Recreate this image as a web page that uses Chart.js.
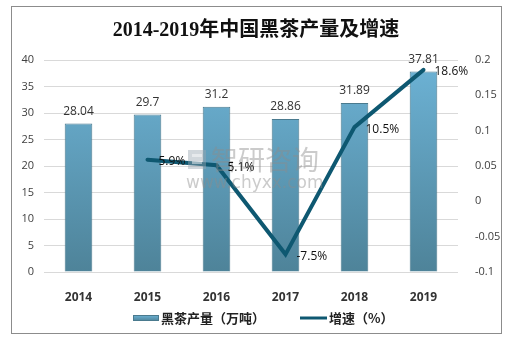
<!DOCTYPE html>
<html>
<head>
<meta charset="utf-8">
<script src="https://cdn.jsdelivr.net/npm/chart.js@4/dist/chart.umd.min.js"></script>
<style>
  html, body { margin: 0; padding: 0; background: #fff; }
  #wrap { width: 510px; height: 343px; position: relative; }
</style>
</head>
<body>
<div id="wrap"><canvas id="myChart" width="510" height="343"></canvas></div>
<script>
// data
const years = ['2014', '2015', '2016', '2017', '2018', '2019'];
const output = [28.04, 29.7, 31.2, 28.86, 31.89, 37.81];   // 万吨
const growth = [null, 0.059, 0.051, -0.075, 0.105, 0.186];
const growthLabels = ['', '5.9%', '5.1%', '-7.5%', '10.5%', '18.6%'];
const leftTicks = [0, 5, 10, 15, 20, 25, 30, 35, 40];
const rightTicks = ['0.2', '0.15', '0.1', '0.05', '0', '-0.05', '-0.1'];

const titleText = '2014-2019年中国黑茶产量及增速';
const legendBar = '黑茶产量（万吨）';
const legendLine = '增速（%）';

const lineColor = '#0e5871';
const cjk = '"Noto Sans CJK SC"';

function barGrad(ctx, area) {
  let g = ctx.createLinearGradient(0, area.top, 0, area.bottom);
  g.addColorStop(0, '#6db3d6');
  g.addColorStop(1, '#4e8399');
  return g;
}

// frame, title, watermark, value labels and legend
const decor = {
  id: 'decor',
  beforeDraw(chart) {
    const c = chart.ctx;
    c.save();
    c.fillStyle = '#fff';
    c.fillRect(0, 0, chart.width, chart.height);
    c.strokeStyle = '#8c8c8c';
    c.lineWidth = 1;
    c.strokeRect(11.5, 6.5, 490, 327);
    c.fillStyle = '#111';
    c.font = 'bold 20px "Liberation Serif", ' + cjk;
    c.textAlign = 'center';
    c.textBaseline = 'middle';
    c.fillText(titleText, 256, 31);
    c.restore();
  },
  afterDatasetsDraw(chart) {
    const c = chart.ctx;
    c.save();
    // watermark
    c.globalAlpha = 0.45;
    c.fillStyle = '#9aa6b2';
    c.fillRect(188, 150, 18, 19);
    c.fillStyle = '#fff';
    c.fillRect(192, 154, 10, 3);
    c.fillRect(192, 161, 10, 3);
    c.fillStyle = '#8c8c8c';
    c.font = '27px ' + cjk;
    c.textAlign = 'left';
    c.textBaseline = 'middle';
    c.fillText('智研咨询', 211, 160);
    c.font = '17px "DejaVu Sans"';
    c.fillText('www.chyxx.com', 186, 184);
    c.globalAlpha = 1;

    // bar values
    const bars = chart.getDatasetMeta(1).data;
    c.fillStyle = '#333';
    c.font = '12px "Open Sans", "Liberation Sans"';
    c.textAlign = 'center';
    bars.forEach((b, i) => {
      c.fillText(String(output[i]), b.x, b.y - 12);
    });

    // growth labels
    const pts = chart.getDatasetMeta(0).data;
    c.fillStyle = '#111';
    c.textAlign = 'left';
    pts.forEach((p, i) => {
      if (growth[i] === null) return;
      c.fillText(growthLabels[i], p.x + 11, p.y + 2);
    });

    // legend
    const ly = 318;
    c.fillStyle = barGrad(c, { top: ly - 3, bottom: ly + 3 });
    c.fillRect(133, ly - 3, 26, 6);
    c.strokeStyle = '#4a7a8e';
    c.lineWidth = 1;
    c.strokeRect(133.5, ly - 2.5, 25, 5);
    c.fillStyle = '#222';
    c.font = 'bold 13px ' + cjk;
    c.fillText(legendBar, 161, ly);
    c.strokeStyle = lineColor;
    c.lineWidth = 3;
    c.beginPath();
    c.moveTo(300, ly);
    c.lineTo(327, ly);
    c.stroke();
    c.fillText(legendLine, 329, ly);
    c.restore();
  }
};

const ctx = document.getElementById('myChart').getContext('2d');
const myChart = new Chart(ctx, {
  data: {
    labels: years,
    datasets: [{
      type: 'line',
      label: legendLine,
      data: growth,
      yAxisID: 'y1',
      borderColor: lineColor,
      borderWidth: 4,
      borderCapStyle: 'round',
      pointRadius: 0,
      tension: 0,
      spanGaps: false,
      order: 0
    }, {
      type: 'bar',
      label: legendBar,
      data: output,
      yAxisID: 'y',
      backgroundColor: (c) => {
        const a = c.chart.chartArea;
        if (!a) return '#5c9cbb';
        return barGrad(c.chart.ctx, a);
      },
      borderColor: '#4a7a8e',
      borderWidth: 1,
      barPercentage: 0.5,
      categoryPercentage: 0.8,
      order: 1
    }]
  },
  options: {
    responsive: false,
    animation: false,
    layout: { padding: { top: 60, left: 0, right: 0, bottom: 0 } },
    plugins: {
      legend: { display: false },
      title: { display: false },
      tooltip: { enabled: false }
    },
    scales: {
      x: {
        grid: { display: false },
        border: { display: false },
        ticks: {
          color: '#333',
          padding: 10,
          font: { family: '"Open Sans", "Liberation Sans"', size: 12, weight: 'bold' }
        },
        afterFit: (s) => { s.height = 71; }
      },
      y: {
        position: 'left',
        min: 0,
        max: 40,
        afterBuildTicks: (s) => { s.ticks = leftTicks.map(v => ({ value: v })); },
        grid: { color: '#d9d9d9', drawTicks: false },
        border: { display: false },
        ticks: {
          color: '#404040',
          padding: 10,
          font: { family: '"Open Sans", "Liberation Sans"', size: 11 }
        },
        afterFit: (s) => { s.width = 44; }
      },
      y1: {
        position: 'right',
        min: -0.1,
        max: 0.2,
        afterBuildTicks: (s) => { s.ticks = rightTicks.map(v => ({ value: parseFloat(v) })); },
        grid: { display: false },
        border: { display: false },
        ticks: {
          color: '#404040',
          padding: 9,
          font: { family: '"Open Sans", "Liberation Sans"', size: 11 },
          callback: (v) => rightTicks.find(t => Math.abs(parseFloat(t) - v) < 1e-9)
        },
        afterFit: (s) => { s.width = 52; }
      }
    }
  },
  plugins: [decor]
});
</script>
</body>
</html>
